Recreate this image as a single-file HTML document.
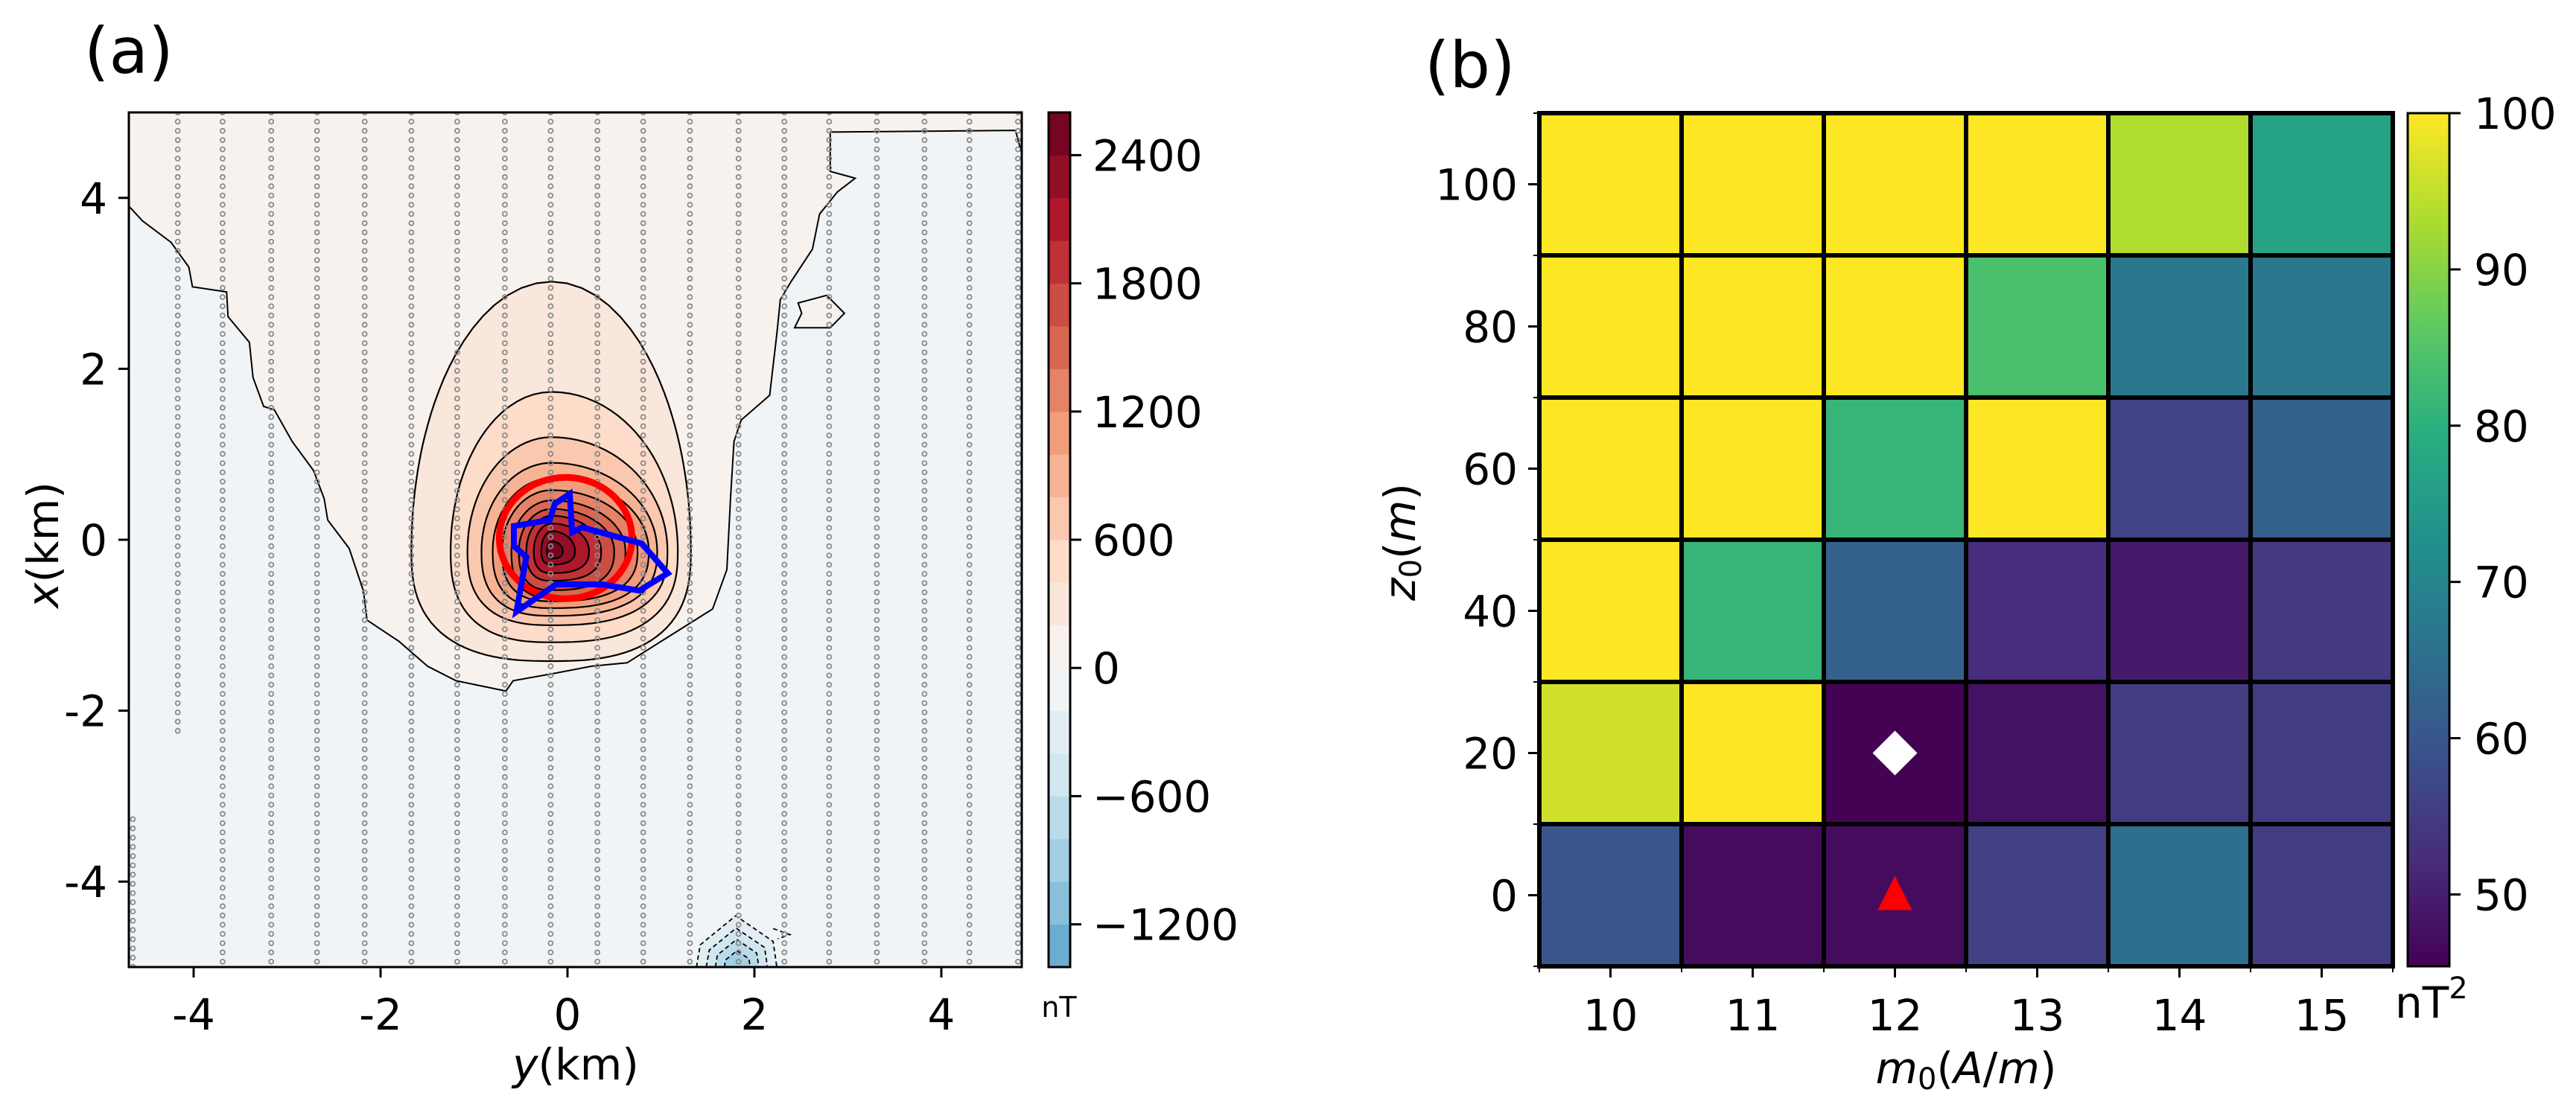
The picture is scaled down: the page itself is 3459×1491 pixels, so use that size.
<!DOCTYPE html>
<html><head><meta charset="utf-8"><title>Magnetic anomaly and misfit grid</title>
<style>
html,body{margin:0;padding:0;background:#fff;}
svg{display:block;font-family:"DejaVu Sans","Liberation Sans",sans-serif;}
</style></head>
<body>
<svg id="fig" xmlns="http://www.w3.org/2000/svg" width="3459" height="1491" viewBox="0 0 3459 1491">
<defs>
<clipPath id="clipA"><rect x="173" y="151" width="1199" height="1148"/></clipPath>
<linearGradient id="viridisGrad" x1="0" y1="1" x2="0" y2="0">
<stop offset="0" stop-color="#440154"/><stop offset="0.125" stop-color="#472d7b"/><stop offset="0.25" stop-color="#3b528b"/><stop offset="0.375" stop-color="#2c728e"/><stop offset="0.5" stop-color="#21918c"/><stop offset="0.625" stop-color="#28ae80"/><stop offset="0.75" stop-color="#5ec962"/><stop offset="0.875" stop-color="#addc30"/><stop offset="1" stop-color="#fde725"/>
</linearGradient>
</defs>
<text x="113" y="98" font-size="86">(a)</text>
<text x="1913" y="117" font-size="86">(b)</text>
<g id="panelA"></g>
<g id="panelB"></g>
</svg>
<script>
// ---------- Panel (a) data ----------
const levelsPos = [200,400,600,800,1000,1200,1400,1600,1800,2000,2200,2400];
const distLeft  = [1.50,1.08,0.90,0.75,0.63,0.53,0.43,0.35,0.27,0.19,0.11,0.05];
const distRight = [1.49,1.35,1.24,1.13,1.04,0.92,0.79,0.67,0.53,0.40,0.25,0.12];
const distUp    = [3.15,1.86,1.33,1.03,0.85,0.71,0.59,0.49,0.41,0.32,0.23,0.11];
const distDown  = [1.29,1.07,0.87,0.76,0.67,0.59,0.55,0.46,0.35,0.26,0.16,0.09];
const peakY = -0.17, peakX = -0.13;
const zeroContourY = [-4.69,-4.547,-4.242,-4.051,-4.013,-3.647,-3.632,-3.403,-3.365,-3.251,-3.136,-2.946,-2.717,-2.603,-2.565,-2.336,-2.183,-2.145,-1.802,-1.497,-1.192,-0.658,-0.582,-0.125,0.257,0.638,0.943,1.248,1.553,1.705,1.744,1.782,1.858,2.163,2.239,2.277,2.392,2.621,2.697,2.888,3.078,2.811,2.811,4.794,4.86];
const zeroContourX = [3.90,3.73,3.48,3.19,2.96,2.90,2.61,2.31,1.90,1.56,1.52,1.15,0.81,0.48,0.23,-0.10,-0.60,-0.94,-1.19,-1.48,-1.65,-1.77,-1.65,-1.56,-1.48,-1.44,-1.23,-1.02,-0.81,-0.35,0.48,1.15,1.40,1.69,2.40,2.81,3.02,3.40,3.81,4.07,4.23,4.31,4.77,4.79,4.52];
const islandY = [2.468,2.773,2.963,2.811,2.43,2.506];
const islandX = [2.77,2.86,2.65,2.48,2.48,2.65];
const negLevels = [-200,-400,-600,-800];
const negScale = [1.0,0.76,0.54,0.32];
const negOuterY = [1.38,1.42,1.80,2.20,2.24];
const negOuterX = [-5.0,-4.74,-4.40,-4.70,-5.0];
const negBaseY = 1.82, negBaseX = -5.0;
const sourceY = [0.024,0.05,0.157,0.794,1.073,0.768,0.369,-0.122,-0.547,-0.441,-0.574,-0.574,-0.189,-0.135];
const sourceX = [0.537,0.087,0.145,-0.044,-0.392,-0.595,-0.523,-0.523,-0.842,-0.203,-0.073,0.160,0.232,0.421];
const trueCenter = [-0.02, 0.02], trueRadius = 0.71;
const surveyLinesY = [-4.65,-4.17,-3.69,-3.17,-2.68,-2.17,-1.67,-1.18,-0.67,-0.18,0.32,0.81,1.31,1.83,2.32,2.80,3.31,3.82,4.30,4.82];
const surveyStart = [-3.27,5,5,5,5,5,5,5,5,5,5,5,5,5,5,5,5,5,5,5];
const surveyEnd   = [-5,-2.27,-5,-5,-5,-5,-5,-5,-5,-5,-5,-5,-5,-5,-5,-5,-5,-5,-5,-5];
const xTicksA = [-4,-2,0,2,4];
const yTicksA = [4,2,0,-2,-4];
const cbTicksA = [2400,1800,1200,600,0,-600,-1200];
const cbLabelsA = ["2400","1800","1200","600","0","\u2212600","\u22121200"];
const cbMinA = -1400, cbMaxA = 2600, cbStepA = 200;

// ---------- Panel (b) data ----------
const mVals = [10,11,12,13,14,15];
const zVals = [0,20,40,60,80,100];
const misfitZ0   = [59.6,47.1,47.1,55.8,65.0,55.2];
const misfitZ20  = [96.2,100,45.5,48.1,55.2,55.2];
const misfitZ40  = [100,81.4,62.3,52.2,49.2,54.7];
const misfitZ60  = [100,100,81.4,100,56.3,62.3];
const misfitZ80  = [100,100,100,84.0,67.3,67.0];
const misfitZ100 = [100,100,100,100,93.4,77.0];
const misfitRows = [misfitZ0,misfitZ20,misfitZ40,misfitZ60,misfitZ80,misfitZ100];
const bestFit = [12,20];
const trueModel = [12,0];
const cbTicksB = [100,90,80,70,60,50];
const vminB = 45.4, vmaxB = 100;

const NS = "http://www.w3.org/2000/svg";
function mk(tag, attrs, parent){ const e=document.createElementNS(NS,tag); for(const k in attrs) e.setAttribute(k,attrs[k]); parent.appendChild(e); return e; }
function lerpHex(a,b,t){ const pa=[1,3,5].map(i=>parseInt(a.substr(i,2),16)), pb=[1,3,5].map(i=>parseInt(b.substr(i,2),16)); return "rgb("+pa.map((v,i)=>Math.round(v+(pb[i]-v)*t)).join(",")+")"; }
function ramp(stops,t){ t=Math.max(0,Math.min(1,t)); const n=stops.length-1; const f=t*n; const i=Math.min(n-1,Math.floor(f)); return lerpHex(stops[i],stops[i+1],f-i); }
const RDBU_R = ["#053061","#2166ac","#4393c3","#92c5de","#d1e5f0","#f7f7f7","#fddbc7","#f4a582","#d6604d","#b2182b","#67001f"];
const VIRIDIS = ["#440154","#472d7b","#3b528b","#2c728e","#21918c","#28ae80","#5ec962","#addc30","#fde725"];
function bandColor(lo){ return ramp(RDBU_R, ((lo+cbStepA/2)+2600)/5200); }

// ---------- Panel (a) ----------
const A = document.getElementById("panelA");
const xa = v => 762 + v*125.5;
const ya = v => 725 - v*114.8;
const plotA = mk("g",{"clip-path":"url(#clipA)"},A);


const bg = mk("rect",{x:173,y:151,width:1199,height:1148,fill:bandColor(-200)},plotA);


function ptsStr(xs,ys){ return xs.map((x,i)=>xa(x).toFixed(1)+","+ya(ys[i]).toFixed(1)).join(" "); }
let zx=[-4.69].concat(zeroContourY,[4.86,4.86,-4.69]);
let zy=[5.05].concat(zeroContourX,[4.52,5.05,5.05]);
const zeroFill = mk("polygon",{points:ptsStr(zx,zy),fill:bandColor(0),stroke:"none"},plotA);


const zeroLine = mk("polyline",{points:ptsStr(zeroContourY,zeroContourX),fill:"none",stroke:"#000","stroke-width":2},plotA);


const island = mk("polygon",{points:ptsStr(islandY,islandX),fill:bandColor(0),stroke:"#000","stroke-width":2},plotA);


function contourPts(i){
  const xs=[],ys=[];
  for(let k=0;k<120;k++){
    const th=k/120*2*Math.PI, c=Math.cos(th), s=Math.sin(th);
    const p = s>=0 ? 2.0 : 2.6;
    const a = c>=0?distRight[i]:distLeft[i];
    const b = s>=0?distUp[i]:distDown[i];
    const r = 1/Math.pow(Math.pow(Math.abs(c)/a,p)+Math.pow(Math.abs(s)/b,p),1/p);
    xs.push(peakY + r*c); ys.push(peakX + r*s);
  }
  return ptsStr(xs,ys);
}
levelsPos.forEach((L,i)=>{
  const p = mk("polygon",{points:contourPts(i),fill:bandColor(L),stroke:"#000","stroke-width":2.2,"stroke-linejoin":"round"},plotA);
  
  
});
negLevels.forEach((L,i)=>{
  const sc=negScale[i];
  const xs=negOuterY.map(v=>negBaseY+(v-negBaseY)*sc);
  const ys=negOuterX.map(v=>negBaseX+(v-negBaseX)*sc);
  const p = mk("polygon",{points:ptsStr(xs,ys),fill:bandColor(L-cbStepA),stroke:"#000","stroke-width":1.8,"stroke-dasharray":"6,4"},plotA);
  
  
});
const blip = mk("polyline",{points:ptsStr([2.2,2.38,2.25],[-4.55,-4.62,-4.67]),fill:"none",stroke:"#000","stroke-width":1.8,"stroke-dasharray":"6,4"},plotA);


const dots = mk("g",{fill:"none",stroke:"#8a8a8a","stroke-width":1.8},plotA);


surveyLinesY.forEach((ly,i)=>{
  for(let v=surveyStart[i]; v>=surveyEnd[i]; v-=0.108){
    mk("circle",{cx:xa(ly).toFixed(1),cy:ya(v).toFixed(1),r:3},dots);
  }
});
const circ = mk("ellipse",{cx:xa(trueCenter[0]),cy:ya(trueCenter[1]),rx:trueRadius*125.5,ry:trueRadius*114.8,fill:"none",stroke:"#ff0000","stroke-width":9},plotA);


const src = mk("polygon",{points:ptsStr(sourceY,sourceX),fill:"none",stroke:"#0000ff","stroke-width":8,"stroke-linejoin":"miter"},plotA);


const frameA = mk("rect",{x:173,y:151,width:1199,height:1148,fill:"none",stroke:"#000","stroke-width":3},A);


xTicksA.forEach(t=>{
  const x=xa(t);
  const tk = mk("line",{x1:x,y1:1299,x2:x,y2:1313,stroke:"#000","stroke-width":3},A);
  
  
  const lb = mk("text",{x:x,y:1383,"font-size":58,"text-anchor":"middle"},A);
  lb.textContent = String(t);
  
  
});
yTicksA.forEach(t=>{
  const y=ya(t);
  const tk = mk("line",{x1:159,y1:y,x2:173,y2:y,stroke:"#000","stroke-width":3},A);
  
  
  const lb = mk("text",{x:144,y:y+21,"font-size":58,"text-anchor":"end"},A);
  lb.textContent = String(t);
  
  
});
const xlA = mk("text",{x:773,y:1450,"font-size":58,"text-anchor":"middle"},A);
xlA.innerHTML = '<tspan font-style="italic">y</tspan>(km)';


const ylA = mk("text",{x:0,y:0,"font-size":58,"text-anchor":"middle",transform:"translate(78,732) rotate(-90)"},A);
ylA.innerHTML = '<tspan font-style="italic">x</tspan>(km)';


const cbA = mk("g",{},A);


const cbTop=151, cbBot=1299, cbX=1408, cbW=29;
const cbY = v => cbBot - (v-cbMinA)/(cbMaxA-cbMinA)*(cbBot-cbTop);
for(let L=cbMinA; L<cbMaxA; L+=cbStepA){
  const r = mk("rect",{x:cbX,y:cbY(L+cbStepA),width:cbW,height:cbY(L)-cbY(L+cbStepA)+0.5,fill:bandColor(L)},cbA);
  
  
}
mk("rect",{x:cbX,y:cbTop,width:cbW,height:cbBot-cbTop,fill:"none",stroke:"#000","stroke-width":3},cbA);
cbTicksA.forEach((t,i)=>{
  const y=cbY(t);
  const tk = mk("line",{x1:cbX+cbW,y1:y,x2:cbX+cbW+15,y2:y,stroke:"#000","stroke-width":3},cbA);
  
  
  const lb = mk("text",{x:1467,y:y+21,"font-size":58},cbA);
  lb.textContent = cbLabelsA[i];
  
  
});
const unitA = mk("text",{x:1422,y:1366,"font-size":38,"text-anchor":"middle"},cbA);
unitA.textContent = "nT";



// ---------- Panel (b) ----------
const B = document.getElementById("panelB");
const cellW = 191, cellH = 191;
const xb = m => 2067 + (m-9.5)*cellW;
const yb = z => 152 + (110-z)*(cellH/20);
zVals.forEach((z,ri)=>{
  mVals.forEach((m,ci)=>{
    const v = misfitRows[ri][ci];
    const r = mk("rect",{x:xb(m-0.5),y:yb(z+10),width:cellW,height:cellH,fill:ramp(VIRIDIS,(v-vminB)/(vmaxB-vminB))},B);
    
    
  });
});
const grid = mk("g",{stroke:"#000","stroke-width":6},B);


for(let k=1;k<6;k++){
  mk("line",{x1:xb(9.5+k),y1:152,x2:xb(9.5+k),y2:1298},grid);
  mk("line",{x1:2067,y1:yb(-10+20*k),x2:3213,y2:yb(-10+20*k)},grid);
}
const frameB = mk("rect",{x:2067,y:152,width:1146,height:1146,fill:"none",stroke:"#000","stroke-width":6},B);


const dm = mk("polygon",{points:[[0,-30],[30,0],[0,30],[-30,0]].map(p=>(xb(bestFit[0])+p[0])+","+(yb(bestFit[1])+p[1])).join(" "),fill:"#fff"},B);


const tri = mk("polygon",{points:[[0,-26],[23,20],[-23,20]].map(p=>(xb(trueModel[0])+p[0])+","+(yb(trueModel[1])+p[1])).join(" "),fill:"#ff0000"},B);


mVals.forEach(m=>{
  const x=xb(m);
  const tk = mk("line",{x1:x,y1:1298,x2:x,y2:1313,stroke:"#000","stroke-width":3},B);
  
  
  const lb = mk("text",{x:x,y:1384,"font-size":58,"text-anchor":"middle"},B);
  lb.textContent = String(m);
  
  
});
for(let k=0;k<=6;k++){
  const x=xb(9.5+k);
  const mt = mk("line",{x1:x,y1:1298,x2:x,y2:1306,stroke:"#000","stroke-width":2},B);
  
  
  const y=yb(-10+20*k);
  const my = mk("line",{x1:2059,y1:y,x2:2067,y2:y,stroke:"#000","stroke-width":2},B);
  
  
}
zVals.forEach(z=>{
  const y=yb(z);
  const tk = mk("line",{x1:2052,y1:y,x2:2067,y2:y,stroke:"#000","stroke-width":3},B);
  
  
  const lb = mk("text",{x:2038,y:y+21,"font-size":58,"text-anchor":"end"},B);
  lb.textContent = String(z);
  
  
});
const xlB = mk("text",{x:2640,y:1455,"font-size":58,"text-anchor":"middle"},B);
xlB.innerHTML = '<tspan font-style="italic">m</tspan><tspan font-size="40" dy="8">0</tspan><tspan dy="-8">(</tspan><tspan font-style="italic">A</tspan>/<tspan font-style="italic">m</tspan>)';


const ylB = mk("text",{x:0,y:0,"font-size":58,"text-anchor":"middle",transform:"translate(1900,728) rotate(-90)"},B);
ylB.innerHTML = '<tspan font-style="italic">z</tspan><tspan font-size="40" dy="8">0</tspan><tspan dy="-8">(</tspan><tspan font-style="italic">m</tspan>)';


const cbB = mk("g",{},B);


const cbBTop=152, cbBBot=1298, cbBX=3233, cbBW=56;
const cbBy = v => cbBBot - (v-vminB)/(vmaxB-vminB)*(cbBBot-cbBTop);
const grad = mk("rect",{x:cbBX,y:cbBTop,width:cbBW,height:cbBBot-cbBTop,fill:"url(#viridisGrad)",stroke:"#000","stroke-width":3},cbB);


cbTicksB.forEach(t=>{
  const y=cbBy(t);
  const tk = mk("line",{x1:cbBX+cbBW,y1:y,x2:cbBX+cbBW+15,y2:y,stroke:"#000","stroke-width":3},cbB);
  
  
  const lb = mk("text",{x:3322,y:y+21,"font-size":58},cbB);
  lb.textContent = String(t);
  
  
});
const unitB = mk("text",{x:3216,y:1367,"font-size":58},cbB);
unitB.innerHTML = 'nT<tspan font-size="40" dy="-26">2</tspan>';


</script>
</body></html>
